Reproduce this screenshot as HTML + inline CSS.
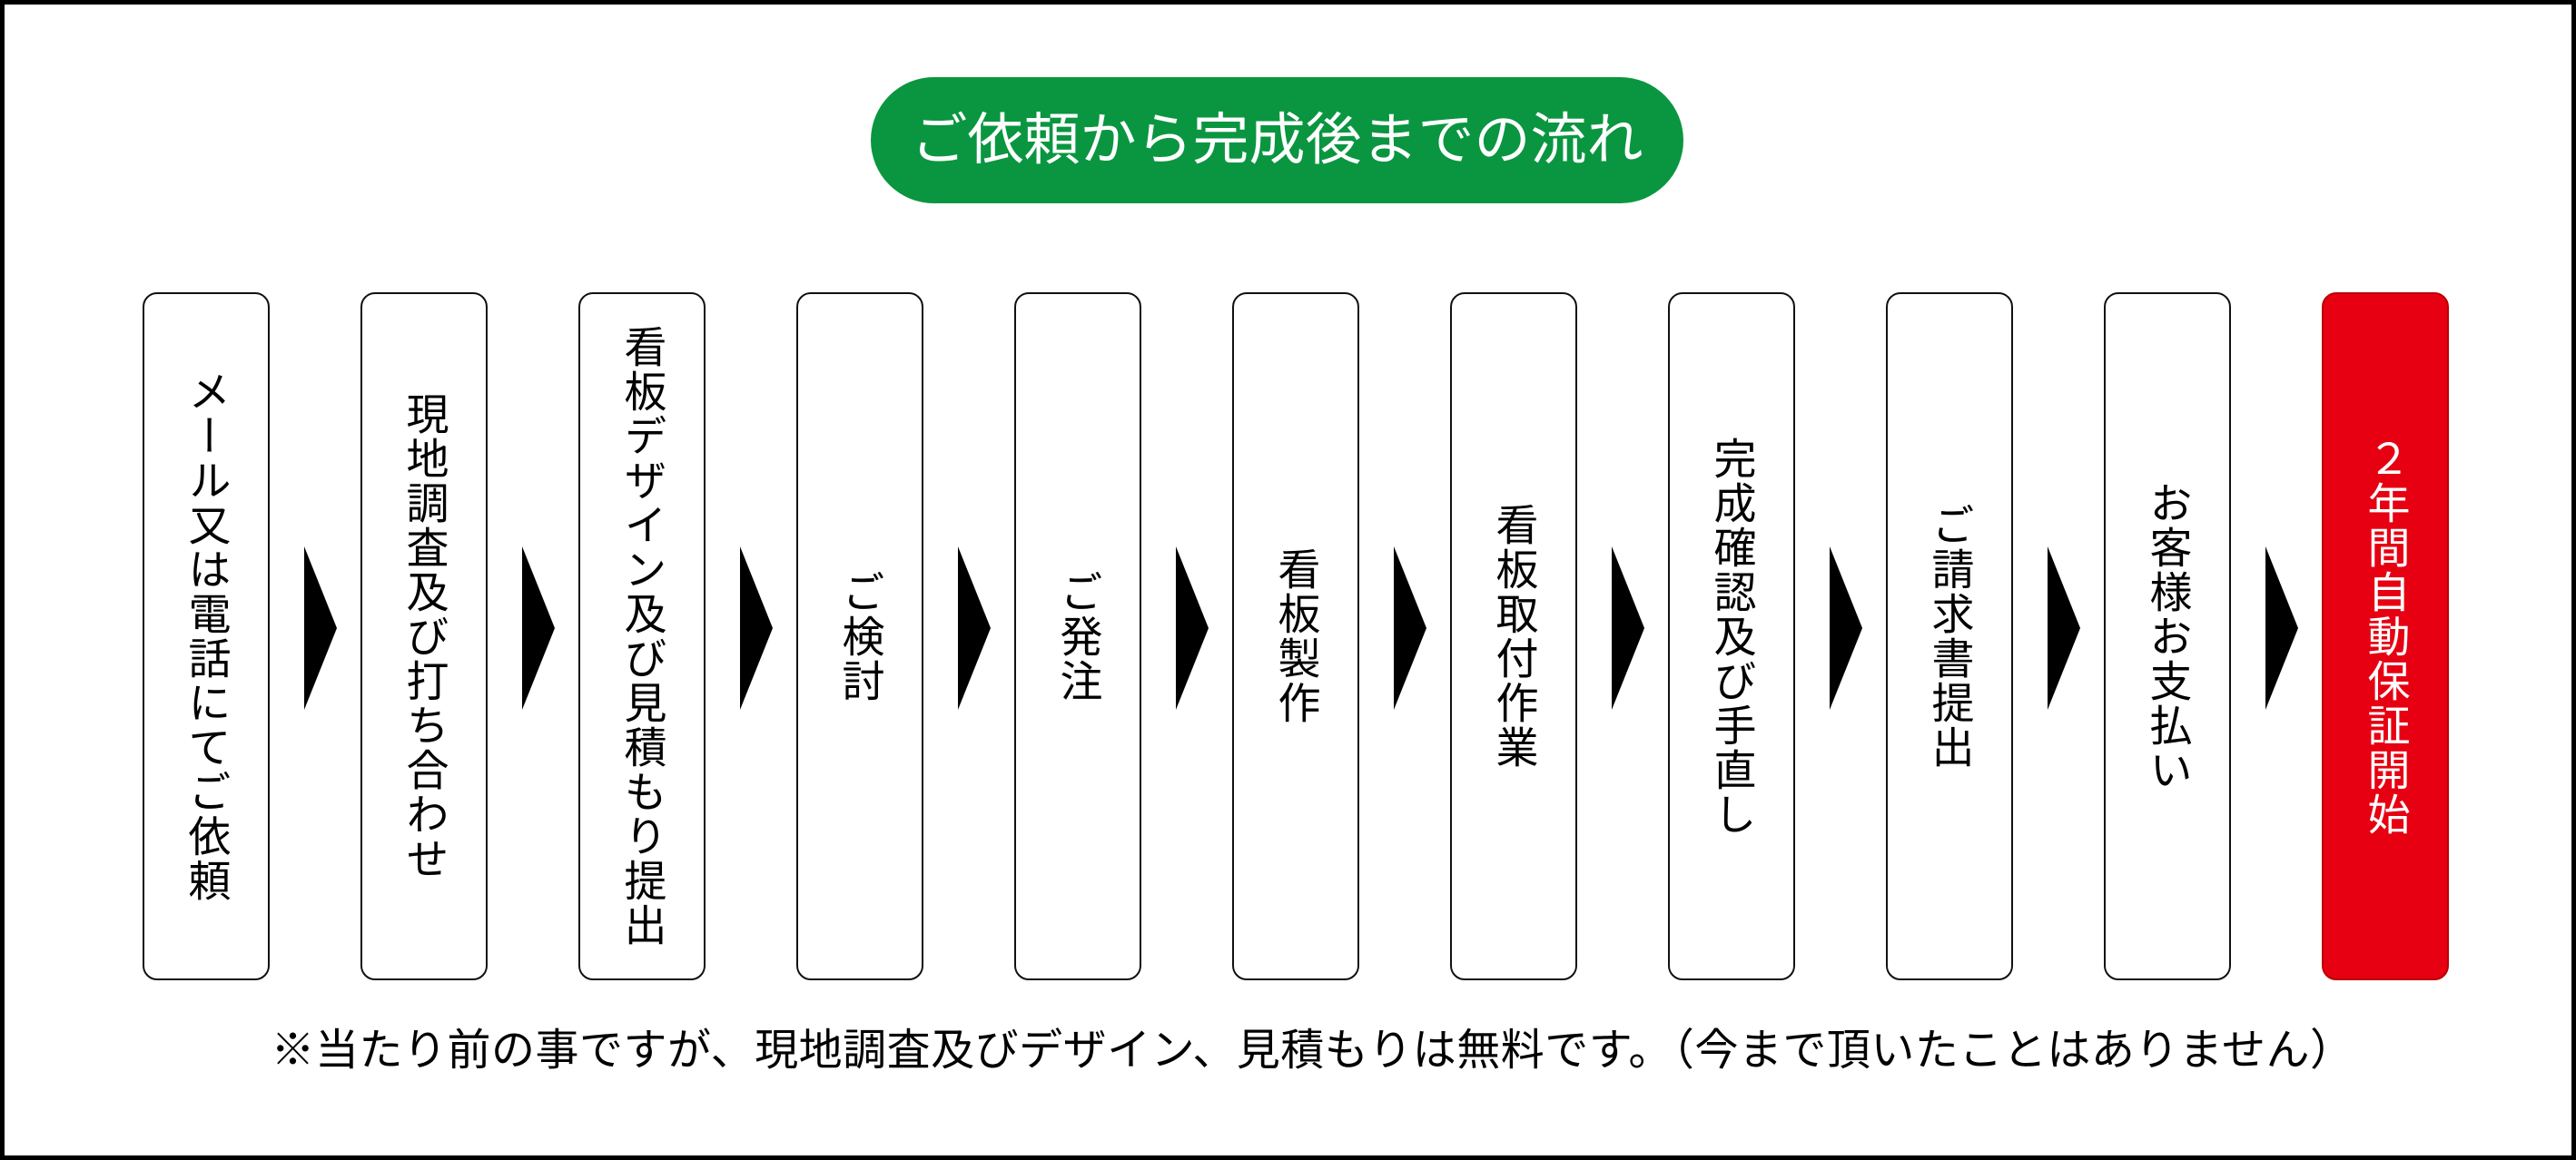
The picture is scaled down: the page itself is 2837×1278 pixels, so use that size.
<!DOCTYPE html>
<html><head><meta charset="utf-8"><style>
html,body{margin:0;padding:0;background:#fff;}
body{width:2837px;height:1278px;position:relative;overflow:hidden;font-family:"Liberation Sans","Noto Sans CJK JP",sans-serif;}
.frame{position:absolute;left:0;top:0;width:2837px;height:1278px;box-sizing:border-box;border:5px solid #000;}
.title{position:absolute;left:959px;top:85px;width:895px;height:139px;border-radius:70px;background:#0a9640;color:#fff;font-size:62px;line-height:139px;text-align:center;}
.box{position:absolute;top:322px;width:140px;height:758px;box-sizing:border-box;border:2.5px solid #111;border-radius:16px;background:#fff;display:flex;align-items:center;justify-content:center;}
.box span{writing-mode:vertical-rl;font-size:47px;line-height:1;letter-spacing:2px;color:#000;}
.box.red{background:#e60012;border-color:#b00;}
.box.red span{color:#fff;}
.arr{position:absolute;top:602px;width:0;height:0;border-top:90px solid transparent;border-bottom:90px solid transparent;border-left:36px solid #000;}
.foot{position:absolute;left:27px;width:2837px;top:1128px;text-align:center;font-size:48px;letter-spacing:0.5px;line-height:60px;color:#000;}
</style></head><body>
<div class="frame"></div>
<div class="title">ご依頼から完成後までの流れ</div>
<div class="box" style="left:157px"><span>メール又は電話にてご依頼</span></div>
<div class="box" style="left:397px"><span>現地調査及び打ち合わせ</span></div>
<div class="box" style="left:637px"><span>看板デザイン及び見積もり提出</span></div>
<div class="box" style="left:877px"><span>ご検討</span></div>
<div class="box" style="left:1117px"><span>ご発注</span></div>
<div class="box" style="left:1357px"><span>看板製作</span></div>
<div class="box" style="left:1597px"><span>看板取付作業</span></div>
<div class="box" style="left:1837px"><span>完成確認及び手直し</span></div>
<div class="box" style="left:2077px"><span>ご請求書提出</span></div>
<div class="box" style="left:2317px"><span>お客様お支払い</span></div>
<div class="box red" style="left:2557px"><span>２年間自動保証開始</span></div>
<div class="arr" style="left:335px"></div>
<div class="arr" style="left:575px"></div>
<div class="arr" style="left:815px"></div>
<div class="arr" style="left:1055px"></div>
<div class="arr" style="left:1295px"></div>
<div class="arr" style="left:1535px"></div>
<div class="arr" style="left:1775px"></div>
<div class="arr" style="left:2015px"></div>
<div class="arr" style="left:2255px"></div>
<div class="arr" style="left:2495px"></div>
<div class="foot">※当たり前の事ですが、現地調査及びデザイン、見積もりは無料です。（今まで頂いたことはありません）</div>
</body></html>
